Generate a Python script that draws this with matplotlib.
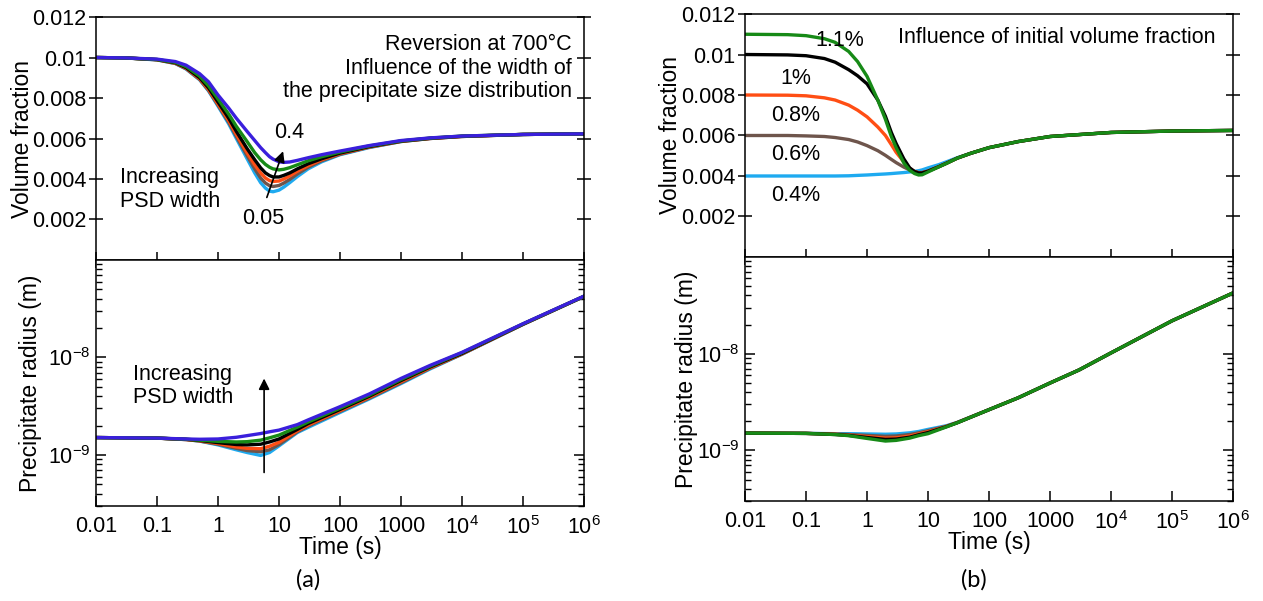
import matplotlib
matplotlib.use("Agg")
import matplotlib.pyplot as plt
from matplotlib.ticker import FixedLocator, LogLocator, NullFormatter, NullLocator

plt.rcParams['font.family'] = ['Liberation Sans', 'DejaVu Sans']
plt.rcParams['mathtext.fontset'] = 'custom'
plt.rcParams['mathtext.rm'] = 'Liberation Sans'
plt.rcParams['mathtext.it'] = 'Liberation Sans:italic'

# ---- data ----
# panel (a) top: volume fraction (x1e-3) vs time, for PSD widths 0.05 ... 0.4
t_vf_a = [0.01, 0.03, 0.1, 0.2, 0.3, 0.5, 0.7, 1, 1.5, 2, 3, 4, 5, 6, 7, 8, 10, 12, 15,
          20, 30, 50, 100, 300, 1000, 3000, 1e4, 1e5, 1e6]
vf_a_cyan = [10.0, 9.98, 9.88, 9.7, 9.43, 8.9, 8.35, 7.6, 6.72, 6.0, 5.0, 4.3, 3.82, 3.55, 3.4, 3.37,
             3.45, 3.6, 3.82, 4.12, 4.5, 4.85, 5.2, 5.55, 5.85, 6.0, 6.1, 6.2, 6.23]
vf_a_brown = [10.0, 9.98, 9.89, 9.71, 9.45, 8.92, 8.38, 7.65, 6.8, 6.1, 5.15, 4.5, 4.05, 3.8, 3.67, 3.63,
              3.68, 3.8, 3.98, 4.25, 4.58, 4.9, 5.22, 5.57, 5.85, 6.0, 6.1, 6.2, 6.23]
vf_a_orange = [10.0, 9.98, 9.89, 9.72, 9.47, 8.95, 8.42, 7.7, 6.88, 6.2, 5.3, 4.7, 4.3, 4.05, 3.92, 3.88,
               3.9, 4.0, 4.15, 4.38, 4.66, 4.95, 5.25, 5.58, 5.86, 6.0, 6.1, 6.2, 6.23]
vf_a_black = [10.0, 9.98, 9.9, 9.74, 9.5, 9.0, 8.5, 7.8, 7.0, 6.35, 5.5, 4.95, 4.55, 4.3, 4.17, 4.1,
              4.1, 4.18, 4.3, 4.5, 4.75, 5.0, 5.28, 5.6, 5.87, 6.01, 6.11, 6.2, 6.23]
vf_a_green = [10.0, 9.98, 9.9, 9.76, 9.55, 9.08, 8.6, 7.95, 7.2, 6.6, 5.85, 5.3, 4.95, 4.72, 4.58, 4.5,
              4.45, 4.48, 4.56, 4.7, 4.9, 5.1, 5.33, 5.63, 5.88, 6.02, 6.12, 6.2, 6.23]
vf_a_blue = [10.0, 9.98, 9.92, 9.8, 9.62, 9.2, 8.8, 8.15, 7.5, 7.0, 6.35, 5.9, 5.55, 5.3, 5.1, 4.98,
             4.85, 4.82, 4.84, 4.92, 5.05, 5.2, 5.38, 5.65, 5.9, 6.03, 6.12, 6.2, 6.23]

# panel (a) bottom: precipitate radius (nm)
t_r = [0.01, 0.1, 0.3, 0.5, 1, 2, 3, 5, 7, 10, 20, 30, 100, 300, 1000, 3000, 1e4, 1e5, 1e6]
r_a_cyan = [1.51, 1.49, 1.44, 1.39, 1.27, 1.13, 1.06, 0.99, 1.06, 1.24, 1.7, 1.92, 2.73, 3.75, 5.4, 7.63, 10.8, 21.8, 42.2]
r_a_brown = [1.51, 1.49, 1.44, 1.39, 1.29, 1.17, 1.11, 1.08, 1.13, 1.28, 1.73, 1.98, 2.8, 3.82, 5.5, 7.75, 10.85, 21.9, 42.3]
r_a_orange = [1.51, 1.49, 1.44, 1.40, 1.31, 1.21, 1.17, 1.16, 1.23, 1.35, 1.77, 2.03, 2.85, 3.9, 5.65, 7.85, 10.9, 21.9, 42.3]
r_a_black = [1.51, 1.49, 1.45, 1.41, 1.34, 1.28, 1.27, 1.29, 1.36, 1.46, 1.83, 2.1, 2.93, 4.0, 5.8, 8.0, 11.0, 22.0, 42.4]
r_a_green = [1.51, 1.49, 1.45, 1.42, 1.38, 1.36, 1.37, 1.42, 1.50, 1.60, 1.93, 2.18, 3.02, 4.1, 5.95, 8.15, 11.2, 22.1, 42.5]
r_a_blue = [1.51, 1.49, 1.46, 1.45, 1.46, 1.52, 1.58, 1.66, 1.73, 1.80, 2.05, 2.29, 3.13, 4.22, 6.1, 8.3, 11.3, 22.2, 42.6]

# panel (b) top: volume fraction (x1e-3) for initial fractions 0.4% ... 1.1%
t_vf_b = [0.01, 0.05, 0.1, 0.2, 0.3, 0.5, 0.7, 1, 1.5, 2, 2.5, 3, 4, 5, 6, 7, 8, 10, 15, 20, 30,
          50, 100, 300, 1000, 1e4, 1e5, 1e6]
vf_b_cyan = [4.0, 4.0, 4.0, 4.0, 4.0, 4.01, 4.03, 4.05, 4.08, 4.1, 4.12, 4.14, 4.17, 4.2, 4.23,
             4.26, 4.3, 4.4, 4.56, 4.7, 4.9, 5.12, 5.4, 5.7, 5.95, 6.15, 6.22, 6.25]
vf_b_brown = [6.0, 6.0, 5.98, 5.95, 5.9, 5.8, 5.68, 5.5, 5.25, 5.02, 4.82, 4.66, 4.44, 4.3, 4.22,
              4.17, 4.17, 4.24, 4.46, 4.63, 4.88, 5.12, 5.4, 5.7, 5.95, 6.15, 6.22, 6.25]
vf_b_orange = [8.0, 7.99, 7.96, 7.86, 7.75, 7.5, 7.25, 6.92, 6.42, 6.0, 5.55, 5.17, 4.7, 4.38, 4.22,
               4.16, 4.16, 4.24, 4.46, 4.63, 4.88, 5.12, 5.4, 5.7, 5.95, 6.15, 6.22, 6.25]
vf_b_black = [10.0, 9.98, 9.94, 9.8, 9.62, 9.25, 8.95, 8.55, 7.75, 6.95, 6.15, 5.6, 4.85, 4.4, 4.22,
              4.15, 4.15, 4.24, 4.46, 4.63, 4.88, 5.12, 5.4, 5.7, 5.95, 6.15, 6.22, 6.25]
vf_b_green = [11.0, 10.98, 10.93, 10.78, 10.6, 10.15, 9.65, 8.92, 7.75, 6.8, 5.95, 5.4, 4.65, 4.28, 4.12,
              4.05, 4.06, 4.2, 4.45, 4.62, 4.88, 5.12, 5.4, 5.7, 5.95, 6.15, 6.22, 6.25]

# panel (b) bottom: precipitate radius (nm)
r_b_cyan = [1.51, 1.50, 1.49, 1.49, 1.48, 1.47, 1.48, 1.52, 1.57, 1.65, 1.80, 1.95, 2.64, 3.5, 4.98, 6.8, 10.2, 21.9, 42.5]
r_b_brown = [1.51, 1.50, 1.48, 1.46, 1.43, 1.40, 1.41, 1.46, 1.52, 1.60, 1.78, 1.94, 2.64, 3.5, 4.98, 6.8, 10.2, 21.9, 42.5]
r_b_orange = [1.51, 1.50, 1.47, 1.44, 1.39, 1.34, 1.35, 1.41, 1.48, 1.56, 1.77, 1.94, 2.64, 3.5, 4.98, 6.8, 10.2, 21.9, 42.5]
r_b_black = [1.51, 1.50, 1.46, 1.43, 1.36, 1.30, 1.31, 1.37, 1.45, 1.53, 1.76, 1.93, 2.64, 3.5, 4.98, 6.8, 10.2, 21.9, 42.5]
r_b_green = [1.51, 1.50, 1.46, 1.42, 1.33, 1.25, 1.27, 1.34, 1.42, 1.49, 1.75, 1.93, 2.64, 3.5, 4.98, 6.8, 10.2, 21.9, 42.5]

vf_b_labels = ['0.4%', '0.6%', '0.8%', '1%', '1.1%']
time_ticks = [1e-2, 1e-1, 1, 10, 100, 1000, 1e4, 1e5, 1e6]
time_labels = ['0.01', '0.1', '1', '10', '100', '1000', r'$10^{4}$', r'$10^{5}$', r'$10^{6}$']
vf_ticks = [0.002, 0.004, 0.006, 0.008, 0.01, 0.012]
vf_tick_labels = ['0.002', '0.004', '0.006', '0.008', '0.01', '0.012']

C_CYAN = '#1eaaf0'
C_BROWN = '#6e554c'
C_ORANGE = '#ff4e14'
C_BLACK = '#000000'
C_GREEN = '#178a17'
C_BLUE = '#3a1fdc'
LW = 2.4
FS = 15.5


def style_top(ax):
    ax.set_xscale('log')
    ax.set_xlim(0.01, 1e6)
    ax.set_ylim(0, 0.012)
    ax.xaxis.set_major_locator(FixedLocator(time_ticks))
    ax.xaxis.set_minor_locator(NullLocator())
    ax.set_yticks(vf_ticks)
    ax.set_yticklabels(vf_tick_labels)
    ax.tick_params(axis='x', direction='inout', length=12, width=1.1, labelbottom=False)
    ax.tick_params(axis='y', direction='inout', length=10, width=1.1, left=True, right=True,
                   labelsize=FS, pad=2)
    ax.set_ylabel('Volume fraction', fontsize=16.5)
    for s in ax.spines.values():
        s.set_linewidth(1.1)


def style_bottom(ax):
    ax.set_xscale('log')
    ax.set_yscale('log')
    ax.set_xlim(0.01, 1e6)
    ax.set_ylim(3e-10, 1e-7)
    ax.xaxis.set_major_locator(FixedLocator(time_ticks))
    ax.xaxis.set_minor_locator(NullLocator())
    ax.set_xticklabels(time_labels)
    ax.yaxis.set_major_locator(FixedLocator([1e-9, 1e-8]))
    ax.yaxis.set_minor_locator(LogLocator(base=10, subs=range(2, 10)))
    ax.yaxis.set_minor_formatter(NullFormatter())
    ax.set_yticklabels([r'$10^{-9}$', r'$10^{-8}$'])
    ax.tick_params(axis='x', direction='in', length=7, width=1.1, labelsize=FS, pad=7)
    ax.tick_params(axis='y', which='major', direction='in', length=7, width=1.1,
                   left=True, right=True, labelsize=FS, pad=4)
    ax.tick_params(axis='y', which='minor', direction='in', length=4, width=1.0,
                   left=True, right=True)
    ax.set_xlabel('Time (s)', fontsize=16.5, labelpad=-2)
    ax.set_ylabel('Precipitate radius (m)', fontsize=16.5)
    for s in ax.spines.values():
        s.set_linewidth(1.1)


fig = plt.figure(figsize=(12.63, 6.01), dpi=100)

ax_at = fig.add_axes([0.0760, 0.5674, 0.3864, 0.4043])
ax_ab = fig.add_axes([0.0760, 0.1581, 0.3864, 0.4093])
ax_bt = fig.add_axes([0.5899, 0.5724, 0.3864, 0.4043])
ax_bb = fig.add_axes([0.5899, 0.1664, 0.3864, 0.4060])

# ---- panel (a) ----
for vals, c in [(vf_a_cyan, C_CYAN), (vf_a_brown, C_BROWN), (vf_a_orange, C_ORANGE),
                (vf_a_black, C_BLACK), (vf_a_green, C_GREEN), (vf_a_blue, C_BLUE)]:
    ax_at.plot(t_vf_a, [v * 1e-3 for v in vals], color=c, lw=LW)
for vals, c in [(r_a_cyan, C_CYAN), (r_a_brown, C_BROWN), (r_a_orange, C_ORANGE),
                (r_a_black, C_BLACK), (r_a_green, C_GREEN), (r_a_blue, C_BLUE)]:
    ax_ab.plot(t_r, [v * 1e-9 for v in vals], color=c, lw=LW)

style_top(ax_at)
style_bottom(ax_ab)
ax_at.yaxis.set_label_coords(-0.127, 0.5)
ax_ab.yaxis.set_label_coords(-0.110, 0.5)

ax_at.text(0.975, 0.79, 'Reversion at 700°C\nInfluence of the width of\nthe precipitate size distribution',
           transform=ax_at.transAxes, ha='right', va='center', multialignment='right',
           fontsize=FS, linespacing=1.15)
ax_at.text(0.163, 0.00348, 'Increasing\nPSD width', ha='center', va='center',
           multialignment='left', fontsize=FS, linespacing=1.15)
ax_at.text(14.6, 0.0063, '0.4', ha='center', va='center', fontsize=FS)
ax_at.text(5.5, 0.00207, '0.05', ha='center', va='center', fontsize=FS)
ax_at.annotate('', xy=(12.1, 0.0055), xytext=(6.1, 0.00296),
               arrowprops=dict(arrowstyle='-|>', color='black', lw=1.2, mutation_scale=16))

ax_ab.text(0.267, 5.1e-9, 'Increasing\nPSD width', ha='center', va='center',
           multialignment='left', fontsize=FS, linespacing=1.15)
ax_ab.annotate('', xy=(5.7, 6.5e-9), xytext=(5.7, 6.2e-10),
               arrowprops=dict(arrowstyle='-|>', color='black', lw=1.2, mutation_scale=16))

# ---- panel (b) ----
for vals, c in [(vf_b_cyan, C_CYAN), (vf_b_brown, C_BROWN), (vf_b_orange, C_ORANGE),
                (vf_b_black, C_BLACK), (vf_b_green, C_GREEN)]:
    ax_bt.plot(t_vf_b, [v * 1e-3 for v in vals], color=c, lw=LW)
for vals, c in [(r_b_cyan, C_CYAN), (r_b_brown, C_BROWN), (r_b_orange, C_ORANGE),
                (r_b_black, C_BLACK), (r_b_green, C_GREEN)]:
    ax_bb.plot(t_r, [v * 1e-9 for v in vals], color=c, lw=LW)

style_top(ax_bt)
style_bottom(ax_bb)
ax_bt.yaxis.set_label_coords(-0.129, 0.5)
ax_bb.yaxis.set_label_coords(-0.097, 0.5)

label_pos = [(0.067, 0.00303), (0.067, 0.00506), (0.067, 0.00697), (0.067, 0.0088), (0.36, 0.0107)]
for lab, (x, y) in zip(vf_b_labels, label_pos):
    ax_bt.text(x, y, lab, ha='center', va='center', fontsize=FS)
ax_bt.text(0.963, 0.905, 'Influence of initial volume fraction', transform=ax_bt.transAxes,
           ha='right', va='center', fontsize=FS)

fig.text(0.244, 0.035, '(a)', ha='center', va='center', fontsize=17, family=['Lato', 'DejaVu Sans'])
fig.text(0.771, 0.035, '(b)', ha='center', va='center', fontsize=17, family=['Lato', 'DejaVu Sans'])

fig.savefig('out.png', dpi=100)
